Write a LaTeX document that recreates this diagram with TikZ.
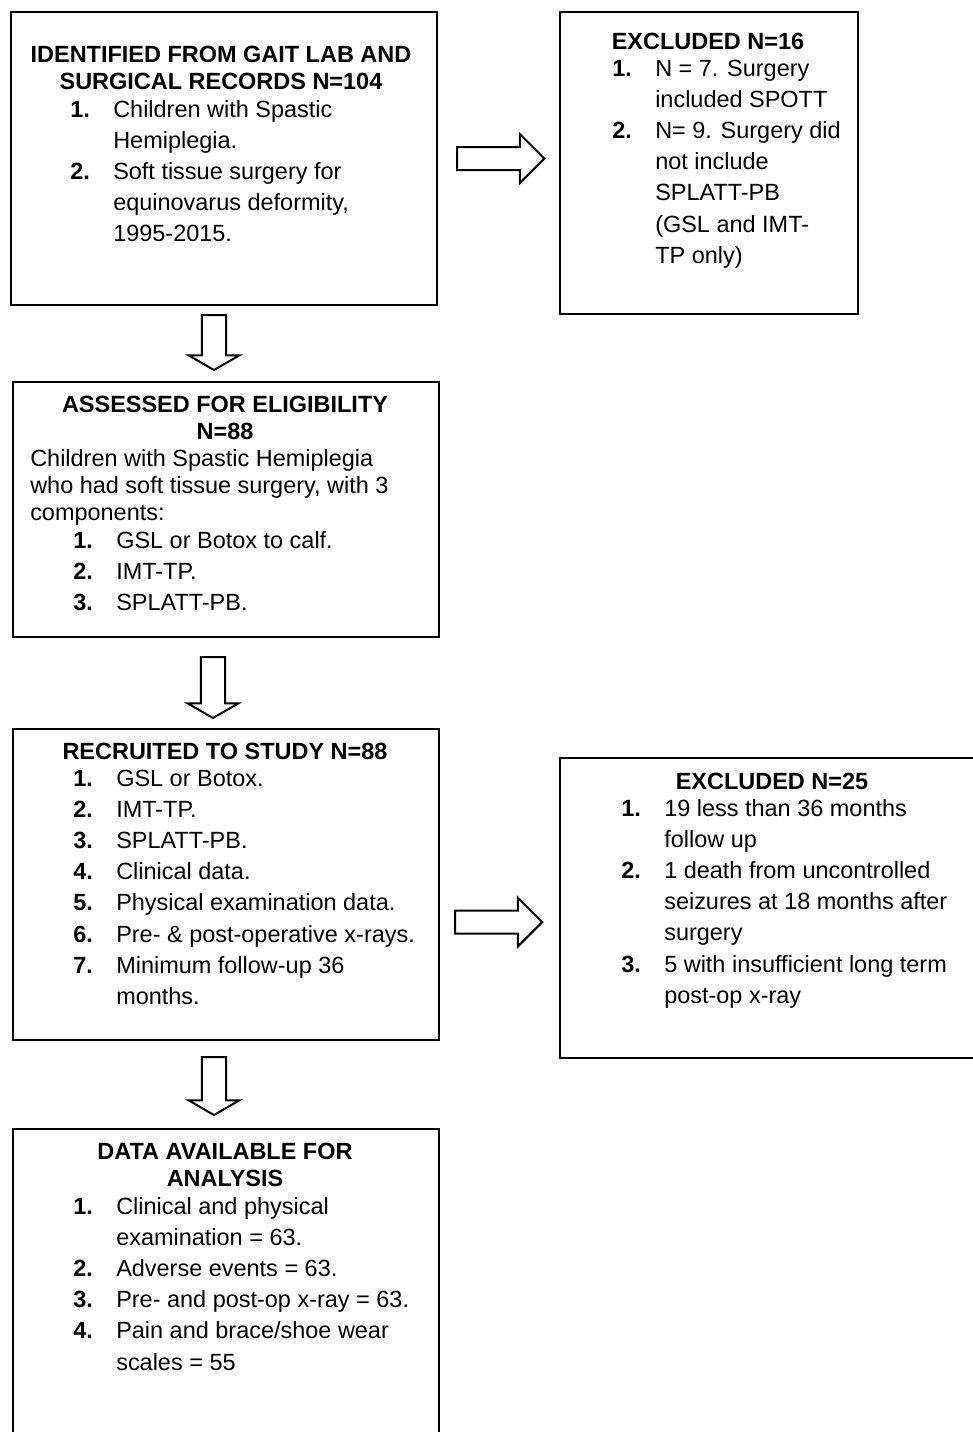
\documentclass[tikz,border=0pt]{standalone}
\usepackage{fontspec}
\setmainfont{Liberation Sans}
\usetikzlibrary{shapes.arrows,calc}
\newcommand\headfont{\fontsize{17.6}{20.25}\selectfont\bfseries}
\newcommand\parafont{\fontsize{17.6}{20.25}\selectfont}
\newcommand\listfont{\fontsize{17.6}{23.4}\selectfont}
\newcommand\nr[1]{\makebox[32.25pt][l]{\bfseries #1}}

\begin{document}
\begin{tikzpicture}[x=0.75pt, y=-0.75pt]
  \tikzstyle{box} = [rectangle, draw, line width=1.5pt, anchor=north west, inner sep=0,
                                    minimum width=319.5pt]
  \tikzstyle{head} = [anchor=base, inner sep=0, font=\headfont]
  \tikzstyle{list} = [anchor=base west, inner sep=0, font=\listfont]
  \tikzstyle{rarrow} = [single arrow, draw, line width=1.5pt, inner sep=0, text height=15.75pt, text depth=0pt,
                                    single arrow head extend=9.75pt, single arrow tip angle=90, minimum height=65.5pt, anchor=tail]
  \tikzstyle{darrow} = [single arrow, draw, line width=1.5pt, inner sep=0, text height=16.75pt, text depth=0pt,
                                    single arrow head extend=10pt, single arrow tip angle=120, rotate=-90, anchor=tail]
\clip (0,0) rectangle (973,1432);
\node[box, minimum height=219.75pt](found) at (10,11){};
\node[box, minimum width=223.5pt, minimum height=226.5pt](excl1) at (559,11){};
\node[box, minimum height=191.25pt](assess) at (12,381){};
\node[box, minimum height=233.25pt](recruit) at (12,728){};
\node[box, minimum height=225pt](excl2) at (559,757){};
\node[box, minimum height=247.5pt](data) at (12,1128){};
\node[head](foundhd) at (221,62){\begin{tabular}[t]{@{}c@{}}IDENTIFIED FROM GAIT LAB AND\\SURGICAL RECORDS N=104\end{tabular}};
\node[list](foundls) at (70,117){\begin{tabular}[t]{@{}l@{}}
  \nr{1.}Children with Spastic\\ \nr{}Hemiplegia.\\
  \nr{2.}Soft tissue surgery for\\ \nr{}equinovarus deformity,\\ \nr{}1995-2015.\end{tabular}};
\node[head](excl1hd) at (708,49){EXCLUDED N=16};
\node[list](excl1ls) at (612,76){\begin{tabular}[t]{@{}l@{}}
  \nr{1.}N = 7. Surgery\\ \nr{}included SPOTT\\
  \nr{2.}N= 9. Surgery did\\ \nr{}not include\\ \nr{}SPLATT-PB\\ \nr{}(GSL and IMT-\\ \nr{}TP only)\end{tabular}};
\node[head](assesshd) at (225,412){\begin{tabular}[t]{@{}c@{}}ASSESSED FOR ELIGIBILITY\\N=88\end{tabular}};
\node[anchor=base west, inner sep=0, font=\parafont](assesspa) at (30,466){\begin{tabular}[t]{@{}l@{}}
  Children with Spastic Hemiplegia\\ who had soft tissue surgery, with 3\\ components:\end{tabular}};
\node[list](assessls) at (73,548){\begin{tabular}[t]{@{}l@{}}
  \nr{1.}GSL or Botox to calf.\\ \nr{2.}IMT-TP.\\ \nr{3.}SPLATT-PB.\end{tabular}};
\node[head](recruithd) at (225,759){RECRUITED TO STUDY N=88};
\node[list](recruitls) at (73,786){\begin{tabular}[t]{@{}l@{}}
  \nr{1.}GSL or Botox.\\ \nr{2.}IMT-TP.\\ \nr{3.}SPLATT-PB.\\ \nr{4.}Clinical data.\\
  \nr{5.}Physical examination data.\\ \nr{6.}Pre- \& post-operative x-rays.\\
  \nr{7.}Minimum follow-up 36\\ \nr{}months.\end{tabular}};
\node[head](excl2hd) at (772,789){EXCLUDED N=25};
\node[list](excl2ls) at (621,816){\begin{tabular}[t]{@{}l@{}}
  \nr{1.}19 less than 36 months\\ \nr{}follow up\\
  \nr{2.}1 death from uncontrolled\\ \nr{}seizures at 18 months after\\ \nr{}surgery\\
  \nr{3.}5 with insufficient long term\\ \nr{}post-op x-ray\end{tabular}};
\node[head](datahd) at (225,1159){\begin{tabular}[t]{@{}c@{}}DATA AVAILABLE FOR\\ANALYSIS\end{tabular}};
\node[list](datals) at (73,1214){\begin{tabular}[t]{@{}l@{}}
  \nr{1.}Clinical and physical\\ \nr{}examination = 63.\\ \nr{2.}Adverse events = 63.\\
  \nr{3.}Pre- and post-op x-ray = 63.\\ \nr{4.}Pain and brace/shoe wear\\ \nr{}scales = 55\end{tabular}};
\node[rarrow](arr1) at ($(found.east)+(18,0)$){};
\node[rarrow](arr2) at (454,922){};
\node[darrow, minimum height=41.25pt](arr3) at ($(found.south)+(-10,8)$){};
\node[darrow, minimum height=45.75pt](arr4) at ($(assess.south)+(-13,18)$){};
\node[darrow, minimum height=43.5pt](arr5) at ($(recruit.south)+(-12,15)$){};
\end{tikzpicture}
\end{document}
